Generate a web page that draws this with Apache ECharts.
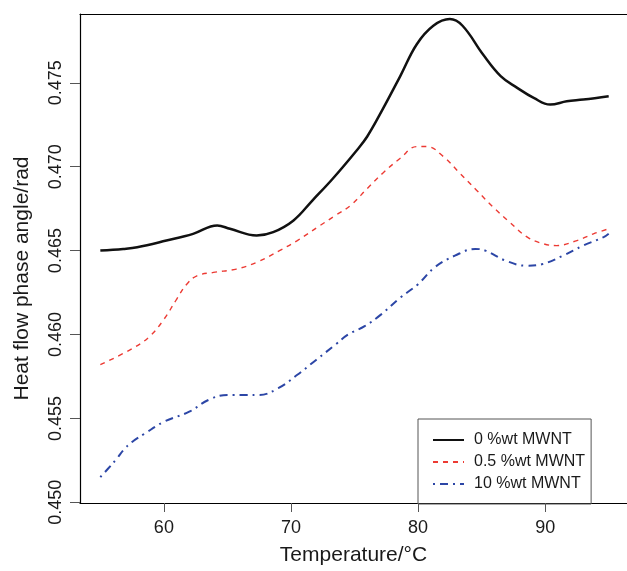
<!DOCTYPE html>
<html>
<head>
<meta charset="utf-8">
<script src="https://cdn.jsdelivr.net/npm/echarts@6/dist/echarts.min.js"></script>
<style>
html,body{margin:0;padding:0;background:#fff;overflow:hidden;}
#chart{width:627px;height:571px;}
</style>
</head>
<body>
<div id="chart"></div>
<script>
// Data
const seriesNames = ['0 %wt MWNT', '0.5 %wt MWNT', '10 %wt MWNT'];

const tempBlack = [55, 56.8, 57.9, 60.2, 62.3, 64.2, 65.2, 67.3, 68.6, 70.2, 71.7, 73.3, 75.2, 76.0, 77.2, 78.6, 79.9, 81.2, 82.5, 83.5, 85.1, 86.5, 87.8, 89.1, 90.4, 91.7, 93.0, 95.0];
const valBlack = [0.4650, 0.4651, 0.4652, 0.4656, 0.4660, 0.4665, 0.4663, 0.4659, 0.4661, 0.4668, 0.4680, 0.4693, 0.4710, 0.4718, 0.4734, 0.4754, 0.4773, 0.4784, 0.4788, 0.4784, 0.4767, 0.4754, 0.4747, 0.4741, 0.4737, 0.4739, 0.4740, 0.4742];

const tempRed = [55, 57.6, 58.9, 60.0, 61.0, 61.8, 62.6, 63.9, 65.7, 67.3, 69.1, 70.5, 72.3, 73.5, 74.7, 76.0, 77.2, 78.6, 79.9, 80.7, 82.0, 83.3, 84.6, 85.9, 87.2, 88.6, 89.9, 90.9, 92.5, 93.8, 95.0];
const valRed = [0.4582, 0.4592, 0.4599, 0.4609, 0.4621, 0.4630, 0.4635, 0.4637, 0.4639, 0.4643, 0.4650, 0.4656, 0.4665, 0.4671, 0.4677, 0.4687, 0.4696, 0.4705, 0.4712, 0.4712, 0.4706, 0.4696, 0.4686, 0.4676, 0.4667, 0.4658, 0.4654, 0.4653, 0.4656, 0.4660, 0.4663];

const tempBlue = [55, 55.6, 56.3, 56.8, 57.5, 58.5, 60.0, 62.0, 63.5, 65.0, 66.5, 67.5, 69.0, 70.5, 72.0, 73.5, 74.5, 75.8, 77.1, 78.6, 80.0, 81.3, 82.9, 84.5, 85.3, 86.9, 88.5, 89.8, 91.4, 93.0, 94.6, 95.0];
const valBlue = [0.4515, 0.4520, 0.4526, 0.4531, 0.4536, 0.4541, 0.4548, 0.4554, 0.4561, 0.4564, 0.4564, 0.4564, 0.4568, 0.4576, 0.4585, 0.4594, 0.4600, 0.4605, 0.4612, 0.4622, 0.4630, 0.4640, 0.4647, 0.4651, 0.4650, 0.4644, 0.4641, 0.4642, 0.4647, 0.4653, 0.4658, 0.4660];

const xTicks = [60, 70, 80, 90];
const yTicks = [0.450, 0.455, 0.460, 0.465, 0.470, 0.475];

const zip = (xs, ys) => xs.map((x, i) => [x, ys[i]]);
const FONT = 'Liberation Sans, Arial, Helvetica, sans-serif';
const X_MIN = 53.4, X_MAX = 96.44;
const frameLine = {show: true, lineStyle: {color: '#000', width: 1.2}};

const chart = echarts.init(document.getElementById('chart'), null, {renderer: 'canvas'});
chart.setOption({
  animation: false,
  backgroundColor: '#ffffff',
  grid: {left: 80, top: 14, right: 0, bottom: 67, show: false},
  xAxis: [{
    type: 'value',
    min: X_MIN, max: X_MAX,
    name: 'Temperature/°C',
    nameLocation: 'middle',
    nameGap: 42,
    nameTextStyle: {fontFamily: FONT, fontSize: 21, color: '#1a1a1a'},
    axisLine: frameLine,
    splitLine: {show: false},
    axisTick: {show: true, length: 9, lineStyle: {color: '#555', width: 1}, customValues: xTicks},
    axisLabel: {show: true, margin: 16, fontFamily: FONT, fontSize: 18, color: '#1a1a1a', customValues: xTicks,
      formatter: v => String(v)}
  }, {
    type: 'value', position: 'top',
    min: X_MIN, max: X_MAX,
    axisLine: frameLine,
    axisTick: {show: false}, axisLabel: {show: false}, splitLine: {show: false}
  }],
  yAxis: {
    type: 'value',
    min: 0.44996, max: 0.4791,
    name: 'Heat flow phase angle/rad',
    nameLocation: 'middle',
    nameRotate: 90,
    nameGap: 47,
    nameTextStyle: {fontFamily: FONT, fontSize: 21, color: '#1a1a1a', padding: [0, 40, 0, 0]},
    axisLine: frameLine,
    splitLine: {show: false},
    axisTick: {show: true, length: 10, lineStyle: {color: '#555', width: 1}, customValues: yTicks},
    axisLabel: {show: true, rotate: 90, margin: 15, fontFamily: FONT, fontSize: 18, color: '#1a1a1a', customValues: yTicks,
      formatter: v => v.toFixed(3)}
  },
  legend: {
    left: 418, top: 419,
    orient: 'vertical',
    itemWidth: 31, itemHeight: 14, itemGap: 6,
    padding: [13, 6, 12, 14],
    borderColor: '#555', borderWidth: 1,
    itemStyle: {opacity: 0},
    textStyle: {fontFamily: FONT, fontSize: 16, color: '#1a1a1a', padding: [0, 0, 0, 5]},
    data: seriesNames
  },
  series: [
    {
      name: seriesNames[0], type: 'line', data: zip(tempBlack, valBlack),
      smooth: 0.4, symbol: 'none',
      lineStyle: {color: '#111', width: 2.5, type: 'solid'},
      itemStyle: {color: '#111'}
    },
    {
      name: seriesNames[1], type: 'line', data: zip(tempRed, valRed),
      smooth: 0.4, symbol: 'none',
      lineStyle: {color: '#ec3a33', width: 1.4, type: [5, 5]},
      itemStyle: {color: '#ec3a33'}
    },
    {
      name: seriesNames[2], type: 'line', data: zip(tempBlue, valBlue),
      smooth: 0.4, symbol: 'none',
      lineStyle: {color: '#2c46a6', width: 2, type: [2, 5, 8, 5]},
      itemStyle: {color: '#2c46a6'}
    }
  ]
});
</script>
</body>
</html>
